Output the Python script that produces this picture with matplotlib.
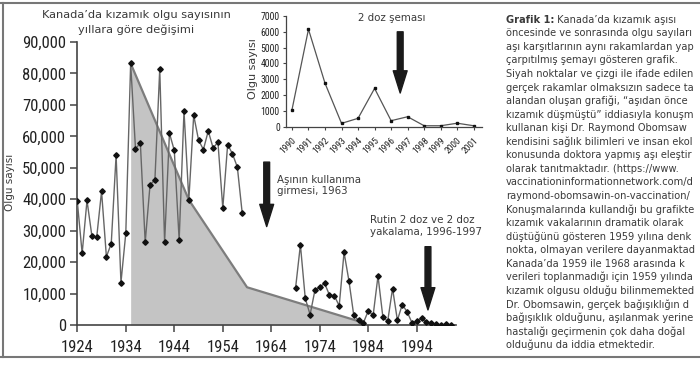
import matplotlib
matplotlib.use("Agg")
import matplotlib.pyplot as plt
from matplotlib import font_manager as fm
from matplotlib.lines import Line2D

# ---------------- data ----------------
main_years_a = [1924, 1925, 1926, 1927, 1928, 1929, 1930, 1931, 1932, 1933,
                1934, 1935, 1936, 1937, 1938, 1939, 1940, 1941, 1942, 1943,
                1944, 1945, 1946, 1947, 1948, 1949, 1950, 1951, 1952, 1953,
                1954, 1955, 1956, 1957, 1958]
main_cases_a = [39300, 22800, 39600, 28400, 27900, 42500, 21700, 25900, 54000, 13500,
                29200, 83200, 56000, 57900, 26300, 44600, 46100, 81400, 26300, 61000,
                55500, 27000, 68000, 39800, 66700, 58800, 55800, 61700, 56300, 58100,
                37200, 57400, 54400, 50200, 35600]
main_years_b = [1969, 1970, 1971, 1972, 1973, 1974, 1975, 1976, 1977, 1978,
                1979, 1980, 1981, 1982, 1983, 1984, 1985, 1986, 1987, 1988,
                1989, 1990, 1991, 1992, 1993, 1994, 1995, 1996, 1997, 1998,
                1999, 2000, 2001]
main_cases_b = [11700, 25500, 8500, 3300, 11100, 12100, 13200, 9500, 9300, 6100,
                23100, 14100, 3100, 1500, 750, 4500, 3100, 15600, 2600, 1200,
                11600, 1500, 6500, 4200, 750, 1200, 2200, 1000, 600, 200,
                100, 200, 100]
shade_years = [1935, 1947, 1959, 1982, 1983]
shade_cases = [83200, 39800, 12000, 1200, 0]
main_xticks = [1924, 1934, 1944, 1954, 1964, 1974, 1984, 1994]
main_yticks = [0, 10000, 20000, 30000, 40000, 50000, 60000, 70000, 80000, 90000]

inset_years = [1990, 1991, 1992, 1993, 1994, 1995, 1996, 1997, 1998, 1999, 2000, 2001]
inset_cases = [1060, 6160, 2750, 210, 530, 2420, 380, 630, 60, 60, 220, 60]
inset_yticks = [0, 1000, 2000, 3000, 4000, 5000, 6000, 7000]

title_lines = ["Kanada’da kızamık olgu sayısının", "yıllara göre değişimi"]
ylabel_text = "Olgu sayısı"
vaccine_text = "Aşının kullanıma\ngirmesi, 1963"
routine_text = "Rutin 2 doz ve 2 doz\nyakalama, 1996-1997"
inset_text = "2 doz şeması"

# caption as visible in the reference (the right edge crops it)
caption_bold = "Grafik 1:"
caption_lines = [
    " Kanada’da kızamık aşısı",
    "öncesinde ve sonrasında olgu sayıları",
    "aşı karşıtlarının aynı rakamlardan yap",
    "çarpıtılmış şemayı gösteren grafik.",
    "Siyah noktalar ve çizgi ile ifade edilen",
    "gerçek rakamlar olmaksızın sadece ta",
    "alandan oluşan grafiği, “aşıdan önce",
    "kızamık düşmüştü” iddiasıyla konuşm",
    "kullanan kişi Dr. Raymond Obomsaw",
    "kendisini sağlık bilimleri ve insan ekol",
    "konusunda doktora yapmış aşı eleştir",
    "olarak tanıtmaktadır. (https://www.",
    "vaccinationinformationnetwork.com/d",
    "raymond-obomsawin-on-vaccination/",
    "Konuşmalarında kullandığı bu grafikte",
    "kızamık vakalarının dramatik olarak",
    "düştüğünü gösteren 1959 yılına denk",
    "nokta, olmayan verilere dayanmaktad",
    "Kanada’da 1959 ile 1968 arasında k",
    "verileri toplanmadığı için 1959 yılında",
    "kızamık olgusu olduğu bilinmemekted",
    "Dr. Obomsawin, gerçek bağışıklığın d",
    "bağışıklık olduğunu, aşılanmak yerine",
    "hastalığı geçirmenin çok daha doğal",
    "olduğunu da iddia etmektedir.",
]

# ---------------- fonts ----------------
avail = {f.name for f in fm.fontManager.ttflist}
def pick(*names):
    for n in names:
        if n in avail:
            return n
    return "DejaVu Sans"
NARROW = pick("Liberation Sans Narrow", "Arial Narrow", "Roboto Condensed", "Liberation Sans")
BODY = "DejaVu Sans"

W, H = 700, 365
fig = plt.figure(figsize=(W / 100, H / 100), dpi=100, facecolor="white")
def fx(px): return px / W
def fy(py): return 1 - py / H

TXT = "#3a3a3a"
AX = "#444444"

# ---------------- main axes ----------------
ax = fig.add_axes([fx(77.3), fy(325), (455.6 - 77.3) / W, (325 - 42) / H])
ax.set_xlim(1924, 2002)
ax.set_ylim(0, 90000)
for s in ("top", "right"):
    ax.spines[s].set_visible(False)
for s in ("left", "bottom"):
    ax.spines[s].set_color(AX)
    ax.spines[s].set_linewidth(1.2)
ax.set_xticks(main_xticks)
ax.set_yticks(main_yticks)
ax.set_yticklabels([f"{v:,}" for v in main_yticks])
ax.tick_params(axis="both", direction="out", length=5, width=1.1, color=AX,
               labelcolor="#222222", labelsize=12, labelfontfamily=NARROW)
ax.tick_params(axis="x", pad=6)
ax.tick_params(axis="y", pad=3)

ax.fill_between(shade_years, shade_cases, 0, color="#c4c4c4", lw=0, zorder=1)
ax.plot(shade_years, shade_cases, color="#7d7d7d", lw=1.6, zorder=2)
for yrs, vals in ((main_years_a, main_cases_a), (main_years_b, main_cases_b)):
    ax.plot(yrs, vals, color="#666666", lw=1.0, marker="D", ms=2.8,
            mfc="#111111", mec="#111111", zorder=3)

arrow_style = "simple,head_length=1.6,head_width=1.0,tail_width=0.42"
ax.annotate("", xy=(1963.05, 31300), xytext=(1963.05, 51800),
            arrowprops=dict(arrowstyle=arrow_style, mutation_scale=10,
                            color="#1a1a1a", shrinkA=0, shrinkB=0))
ax.annotate("", xy=(1996.3, 4800), xytext=(1996.3, 24900),
            arrowprops=dict(arrowstyle=arrow_style, mutation_scale=10,
                            color="#1a1a1a", shrinkA=0, shrinkB=0))
ax.text(1965.2, 44400, vaccine_text, ha="left", va="center", fontsize=7.4,
        family=BODY, color=TXT, linespacing=1.15)
ax.text(1984.3, 31500, routine_text, ha="left", va="center", fontsize=7.4,
        family=BODY, color=TXT, linespacing=1.15, clip_on=False)

# ---------------- inset axes ----------------
ax2 = fig.add_axes([fx(286), fy(126.7), (482 - 286) / W, (126.7 - 16) / H])
ax2.set_facecolor("white")
ax2.set_xlim(1989.64, 2001.5)
ax2.set_ylim(0, 7000)
for s in ("top", "right"):
    ax2.spines[s].set_visible(False)
for s in ("left", "bottom"):
    ax2.spines[s].set_color(AX)
    ax2.spines[s].set_linewidth(0.9)
ax2.set_xticks(inset_years)
ax2.set_xticklabels([str(y) for y in inset_years], rotation=45, ha="right",
                    rotation_mode="anchor")
ax2.set_yticks(inset_yticks)
ax2.tick_params(axis="both", direction="out", length=2.5, width=0.8, color=AX,
                labelcolor="#222222", labelfontfamily=NARROW)
ax2.tick_params(axis="y", labelsize=7, pad=2)
ax2.tick_params(axis="x", labelsize=6.8, pad=4)
ax2.plot(inset_years, inset_cases, color="#555555", lw=0.9, marker="s", ms=2,
         mfc="#111111", mec="#111111")
ax2.annotate("", xy=(1996.55, 2130), xytext=(1996.55, 6000),
             arrowprops=dict(arrowstyle=arrow_style, mutation_scale=10,
                             color="#1a1a1a", shrinkA=0, shrinkB=0))
ax2.text(1996.06, 6875, inset_text, ha="center", va="center", fontsize=7.4,
         family=BODY, color=TXT)

# ---------------- labels / titles ----------------
fig.text(fx(136.5), fy(15), title_lines[0], ha="center", va="center",
         fontsize=8.2, family=BODY, color=TXT)
fig.text(fx(136.5), fy(29.5), title_lines[1], ha="center", va="center",
         fontsize=8.2, family=BODY, color=TXT)
fig.text(fx(10), fy(182), ylabel_text, rotation=90, ha="center", va="center",
         fontsize=7.5, family=BODY, color=TXT)
fig.text(fx(253), fy(69), ylabel_text, rotation=90, ha="center", va="center",
         fontsize=8, family=BODY, color=TXT)

# ---------------- caption ----------------
x0 = 506
CAP_FS = 7.15
t = fig.text(fx(x0), fy(19.8), caption_bold, ha="left", va="center",
             fontsize=CAP_FS, family=BODY, weight="bold", color=TXT)
fig.canvas.draw()
bb = t.get_window_extent(fig.canvas.get_renderer())
fig.text(bb.x1 / W, fy(19.8), caption_lines[0], ha="left", va="center",
         fontsize=CAP_FS, family=BODY, color=TXT)
for i, line in enumerate(caption_lines[1:], start=1):
    fig.text(fx(x0), fy(19.8 + 13.55 * i), line, ha="left", va="center",
             fontsize=CAP_FS, family=BODY, color=TXT)

# ---------------- frame ----------------
fig.add_artist(Line2D([0, 1], [fy(2.5), fy(2.5)], transform=fig.transFigure,
                      color="#777777", lw=1.5))
fig.add_artist(Line2D([0, 1], [fy(356.5), fy(356.5)], transform=fig.transFigure,
                      color="#777777", lw=1.5))
fig.add_artist(Line2D([fx(3), fx(3)], [fy(2.5), fy(356.5)], transform=fig.transFigure,
                      color="#777777", lw=1.5))

fig.savefig("out.png", dpi=100, facecolor="white")
